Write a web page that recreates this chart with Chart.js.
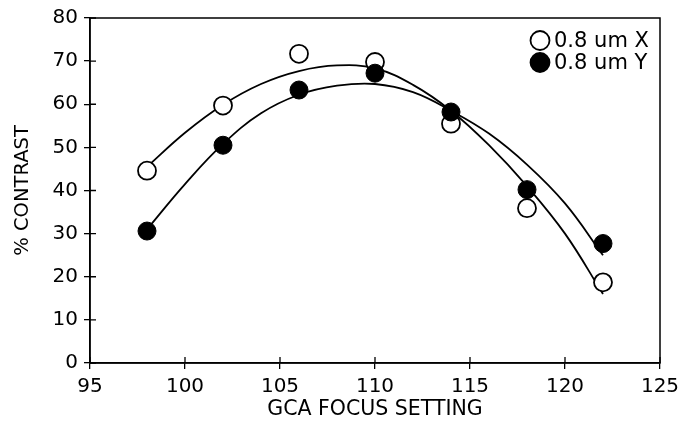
<!DOCTYPE html>
<html><head><meta charset="utf-8">
<script src="https://cdn.jsdelivr.net/npm/chart.js@4/dist/chart.umd.min.js"></script>
<style>html,body{margin:0;padding:0;background:#fff}#wrap{width:696px;height:422px;position:relative}</style>
</head><body><div id="wrap"><canvas id="c"></canvas></div>
<script>
// ---- data ----
const focusSettings = [98, 102, 106, 110, 114, 118, 122];
const contrastX = [44.6, 59.7, 71.7, 69.8, 55.5, 35.9, 18.7];
const contrastY = [30.6, 50.5, 63.3, 67.2, 58.2, 40.2, 27.7];
const fitSettings = [98, 100, 102, 104, 106, 108, 110, 112, 114, 116, 118, 120, 122];
const fitX = [45.5, 53.4, 59.9, 64.7, 67.7, 69.0, 68.3, 64.5, 58.5, 50.5, 41, 30, 16];
const fitY = [31, 41.5, 50.8, 57.9, 62.2, 64.3, 64.7, 62.8, 58.5, 53.2, 46, 37, 25];
const xTicks = [95, 100, 105, 110, 115, 120, 125];
const yTicks = [0, 10, 20, 30, 40, 50, 60, 70, 80];
const seriesLabels = ['0.8 um X', '0.8 um Y'];
const xTitle = 'GCA FOCUS SETTING';
const yTitle = '% CONTRAST';

const pts = (xs, ys) => xs.map((x, i) => ({x, y: ys[i]}));
const INK = '#000';

const framePlugin = {
  id: 'frame',
  beforeDatasetsDraw(chart) {
    const {ctx, chartArea: a, scales} = chart;
    ctx.save();
    ctx.strokeStyle = INK;
    ctx.lineWidth = 1.5;
    ctx.strokeRect(a.left, a.top, a.right - a.left, a.bottom - a.top);
    ctx.lineWidth = 1.3;
    ctx.beginPath();
    scales.x.ticks.forEach(t => {
      const px = scales.x.getPixelForValue(t.value);
      ctx.moveTo(px, a.bottom); ctx.lineTo(px, a.bottom - 6);
    });
    scales.y.ticks.forEach(t => {
      const py = scales.y.getPixelForValue(t.value);
      ctx.moveTo(a.left, py); ctx.lineTo(a.left + 6, py);
    });
    ctx.stroke();
    ctx.restore();
  }
};

const legendPlugin = {
  id: 'customLegend',
  afterDraw(chart) {
    const {ctx} = chart;
    ctx.save();
    ctx.font = '21px "DejaVu Sans"';
    ctx.textBaseline = 'middle';
    ctx.fillStyle = INK;
    [0, 1].forEach(i => {
      const ds = chart.data.datasets[i];
      const cy = 40.5 + i * 22;
      ctx.beginPath();
      ctx.arc(540, cy, 9.5, 0, Math.PI * 2);
      ctx.fillStyle = ds.pointBackgroundColor;
      ctx.fill();
      ctx.lineWidth = 1.8;
      ctx.strokeStyle = INK;
      ctx.stroke();
      ctx.fillStyle = INK;
      ctx.fillText(ds.label, 554, cy + 1);
    });
    ctx.restore();
  }
};

new Chart(document.getElementById('c'), {
  type: 'scatter',
  data: {
    datasets: [
      {label: seriesLabels[0], data: pts(focusSettings, contrastX), showLine: false,
       pointRadius: 9, pointHoverRadius: 9, pointBackgroundColor: '#fff', pointBorderColor: INK, pointBorderWidth: 1.8, order: 1},
      {label: seriesLabels[1], data: pts(focusSettings, contrastY), showLine: false,
       pointRadius: 9, pointHoverRadius: 9, pointBackgroundColor: INK, pointBorderColor: INK, pointBorderWidth: 1, order: 0},
      {label: 'fit X', data: pts(fitSettings, fitX), showLine: true, pointRadius: 0, borderColor: INK, borderWidth: 1.8, tension: 0.4, order: 2},
      {label: 'fit Y', data: pts(fitSettings, fitY), showLine: true, pointRadius: 0, borderColor: INK, borderWidth: 1.8, tension: 0.4, order: 2}
    ]
  },
  options: {
    responsive: true, maintainAspectRatio: false, animation: false,
    layout: {padding: {left: 11, top: 15, right: 36, bottom: 0}},
    plugins: {legend: {display: false}, tooltip: {enabled: false}},
    scales: {
      x: {
        type: 'linear', min: 95, max: 125,
        afterBuildTicks: s => { s.ticks = xTicks.map(v => ({value: v})); },
        afterFit: s => { s.height = 59; },
        grid: {drawOnChartArea: false, drawTicks: true, tickLength: 6, color: INK, lineWidth: 1.3},
        border: {display: true, color: INK, width: 1.5},
        ticks: {color: INK, font: {family: 'DejaVu Sans', size: 20}, padding: 6, maxRotation: 0},
        title: {display: true, text: xTitle, color: INK, font: {family: 'DejaVu Sans', size: 20.5}, padding: {top: 0, bottom: 0}}
      },
      y: {
        type: 'linear', min: 0, max: 80,
        afterBuildTicks: s => { s.ticks = yTicks.map(v => ({value: v})); },
        afterFit: s => { s.width = 79; },
        grid: {drawOnChartArea: false, drawTicks: true, tickLength: 6, color: INK, lineWidth: 1.3},
        border: {display: true, color: INK, width: 1.5},
        ticks: {color: INK, font: {family: 'DejaVu Sans', size: 20}, padding: 6},
        title: {display: true, text: yTitle, color: INK, font: {family: 'DejaVu Sans', size: 19.5}, padding: 0}
      }
    }
  },
  plugins: [framePlugin, legendPlugin]
});
</script></body></html>
